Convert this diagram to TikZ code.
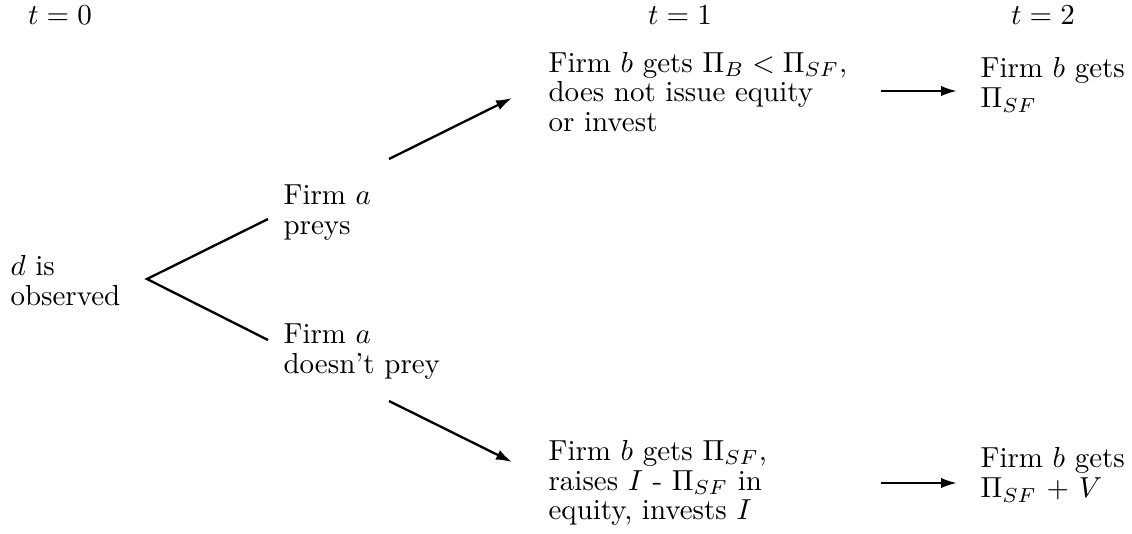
\documentclass[tikz,border=0pt]{standalone}
\usetikzlibrary{arrows.meta,calc}
\begin{document}
\begin{tikzpicture}[x=0.345pt,y=-0.345pt,
  lbl/.style={anchor=west,align=left,inner sep=0pt,font=\fontsize{10}{10.3}\selectfont},
  ttl/.style={inner sep=0pt,font=\fontsize{10}{10.3}\selectfont},
  edge/.style={line width=0.8pt},
  arr/.style={line width=0.8pt,-{Latex[length=5.5pt,width=3.6pt]}}]
\useasboundingbox (0,0) rectangle (1132,533);
\node[ttl] (t0) at (60,15) {$t=0$};
\node[ttl] (t1) at (680,15) {$t=1$};
\node[ttl] (t2) at (1043,15) {$t=2$};
\node[lbl] (d) at (10,281) {$d$ is\\observed};
\node[lbl] (p) at (283,213) {Firm $a$\\preys};
\node[lbl] (np) at (283,352) {Firm $a$\\doesn't prey};
\node[lbl] (tm) at (548,92) {Firm $b$ gets $\Pi_B < \Pi_{SF}$,\\does not issue equity\\or invest};
\node[lbl] (bm) at (548,483) {Firm $b$ gets $\Pi_{SF}$,\\raises $I$ - $\Pi_{SF}$ in\\equity, invests $I$};
\node[lbl] (tr) at (980,85) {Firm $b$ gets\\$\Pi_{SF}$};
\node[lbl] (br) at (980,475) {Firm $b$ gets\\$\Pi_{SF}$ + $V$};
\coordinate (apex) at (147,279);
\draw[edge] ($(p.west)+(-15,6)$) -- (apex) -- ($(np.west)+(-15,-12)$);
\draw[arr] ($(p.west)+(106,-54)$) -- ($(tm.west)+(-36,6)$);
\draw[arr] ($(np.west)+(106,49)$) -- ($(bm.west)+(-36,-21)$);
\draw[arr] ($(tm.west)+(333,-1)$) -- ($(tr.west)+(-23,6)$);
\draw[arr] ($(bm.west)+(333,0)$) -- ($(br.west)+(-23,8)$);
\end{tikzpicture}
\end{document}
